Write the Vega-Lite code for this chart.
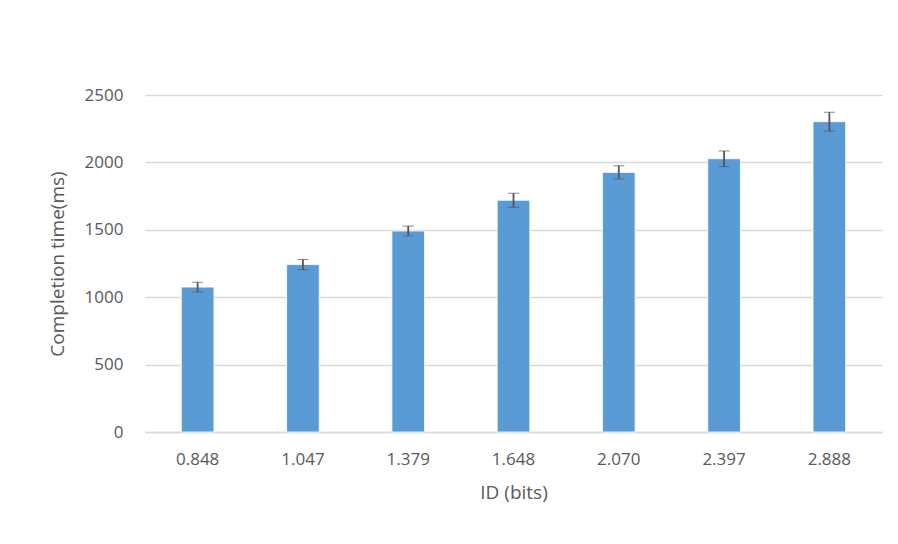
{
  "$schema": "https://vega.github.io/schema/vega-lite/v6.json",
  "width": 737,
  "height": 337,
  "autosize": {"type": "none"},
  "padding": {"left": 145, "top": 95, "right": 16, "bottom": 112},
  "background": "white",
  "config": {
    "view": {"stroke": null},
    "font": "Open Sans",
    "axis": {"labelFont": "Open Sans", "titleFont": "Open Sans", "labelColor": "#595959", "titleColor": "#595959", "labelFontSize": 17, "titleFontSize": 19, "titleFontWeight": "normal"}
  },
  "data": {
    "values": [
      {"id": "0.848", "time": 1075, "err": 36},
      {"id": "1.047", "time": 1242, "err": 38},
      {"id": "1.379", "time": 1491, "err": 37},
      {"id": "1.648", "time": 1719, "err": 52},
      {"id": "2.070", "time": 1926, "err": 49},
      {"id": "2.397", "time": 2027, "err": 58},
      {"id": "2.888", "time": 2302, "err": 70}
    ]
  },
  "encoding": {
    "x": {
      "field": "id", "type": "nominal", "sort": null,
      "scale": {"paddingInner": 0.69, "paddingOuter": 0.345},
      "axis": {"title": "ID (bits)", "labelAngle": 0, "domainColor": "#d9d9d9", "domainWidth": 1.5, "ticks": false, "labelPadding": 19, "titlePadding": 16}
    }
  },
  "layer": [
    {
      "mark": {"type": "bar", "color": "#5b9bd5", "stroke": "#ffffff", "strokeWidth": 0.8},
      "encoding": {
        "y": {
          "field": "time", "type": "quantitative",
          "scale": {"domain": [0, 2500], "nice": false},
          "axis": {"title": "Completion time(ms)", "format": "d", "values": [0, 500, 1000, 1500, 2000, 2500], "domain": false, "ticks": false, "gridColor": "#d9d9d9", "gridWidth": 1.5, "labelPadding": 22, "titleX": -88, "titleY": 168.5, "titleAlign": "center", "titleBaseline": "middle", "titleAngle": -90}
        }
      }
    },
    {
      "mark": {"type": "errorbar", "ticks": {"size": 11, "color": "#555555", "strokeWidth": 1.8}, "rule": {"color": "#555555", "strokeWidth": 1.8}},
      "encoding": {
        "y": {"field": "time", "type": "quantitative", "title": "Completion time(ms)", "scale": {"domain": [0, 2500], "nice": false}},
        "yError": {"field": "err"}
      }
    }
  ]
}
